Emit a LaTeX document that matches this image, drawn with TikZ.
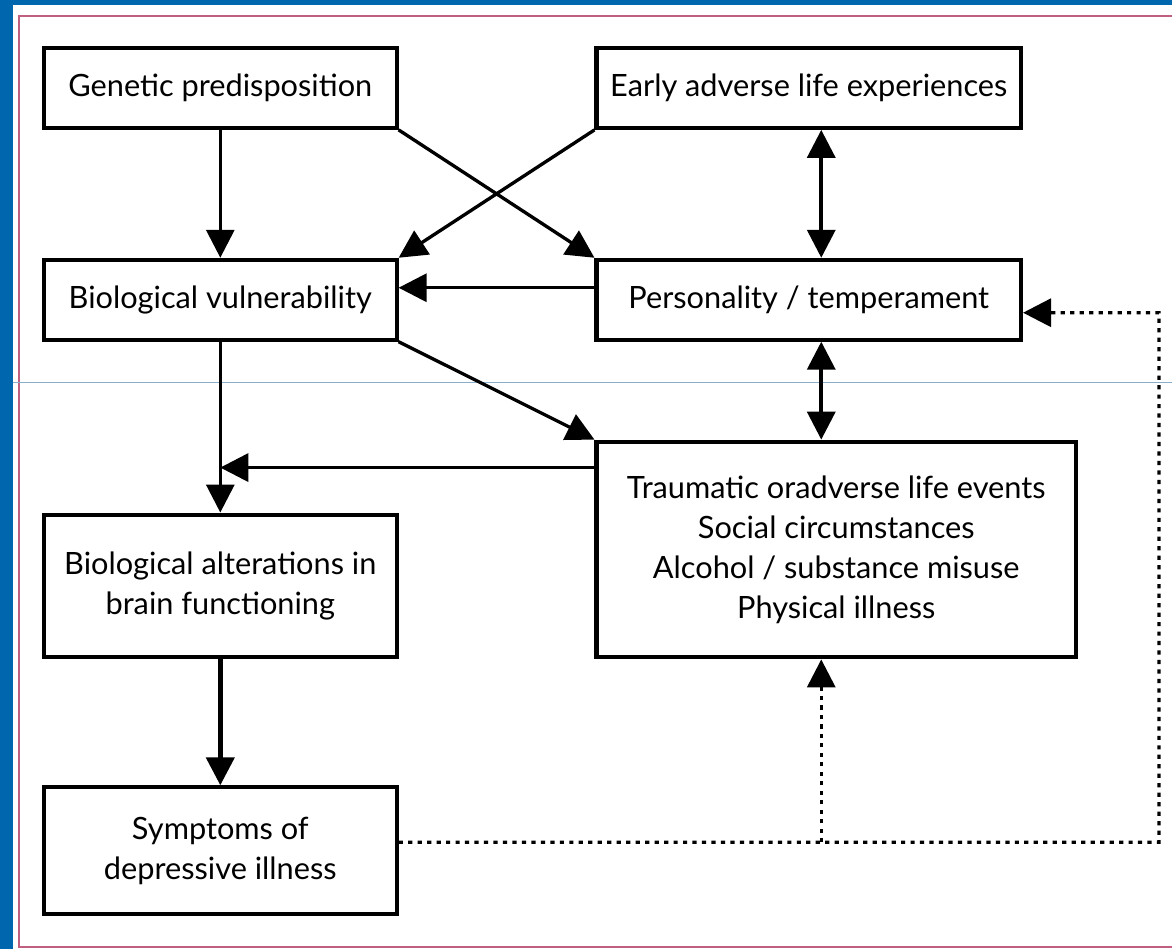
\documentclass[tikz,border=0pt]{standalone}
\usepackage{fontspec}
\setmainfont{Lato}
\usetikzlibrary{arrows.meta}

\definecolor{frameblue}{HTML}{0066AE}
\definecolor{framepink}{HTML}{C0607E}
\definecolor{scanline}{HTML}{88AECB}

\begin{document}
\begin{tikzpicture}[x=0.02cm, y=-0.02cm,
    box/.style={draw, line width=2.3pt, align=center, inner sep=0pt,
      font=\fontsize{17.5}{22.8}\selectfont},
    link/.style={line width=1.9pt, -{Triangle[length=0.56cm,width=0.56cm]}},
    twoway/.style={line width=2.1pt, {Triangle[length=0.56cm,width=0.56cm]}-{Triangle[length=0.56cm,width=0.56cm]}},
    feedback/.style={line width=1.9pt, dash pattern=on 2.4pt off 3pt, -{Triangle[length=0.56cm,width=0.56cm]}}]

  % frame
  \fill[frameblue] (0,0) rectangle (1173,950);
  \fill[white] (13,5) rectangle (1173,950);
  \draw[framepink, line width=1.2pt] (1173,16) -- (19,16) -- (19,948) -- (1173,948);
  \draw[scanline, line width=0.6pt] (13,383) -- (1173,383);
  \useasboundingbox (0,0) rectangle (1173,950);

  \node [box, minimum width=7.06cm, minimum height=1.6cm] (gen) at (220.5,88) {Genetic predisposition};
  \node [box, minimum width=8.5cm, minimum height=1.6cm] (early) at (809.5,88) {Early adverse life experiences};
  \node [box, minimum width=7.06cm, minimum height=1.6cm] (vuln) at (220.5,300) {Biological vulnerability};
  \node [box, minimum width=8.5cm, minimum height=1.6cm] (pers) at (809.5,300) {Personality / temperament};
  \node [box, minimum width=9.6cm, minimum height=4.32cm] (trauma) at (837,550)
    {Traumatic oradverse life events\\Social circumstances\\Alcohol / substance misuse\\Physical illness};
  \node [box, minimum width=7.06cm, minimum height=2.86cm] (alter) at (220.5,586.5)
    {Biological alterations in\\brain functioning};
  \node [box, minimum width=7.06cm, minimum height=2.54cm] (symp) at (220.5,851.5)
    {Symptoms of\\depressive illness};
  \coordinate (loopc) at (1160,843);

  \draw [link] (gen.south) -- (vuln.north);
  \draw [link] (gen.south east) -- (pers.north west);
  \draw [link] (early.south west) -- (vuln.north east);
  \draw [twoway] ([xshift=0.25cm]early.south) -- ([xshift=0.25cm]pers.north);
  \draw [link] ([yshift=0.24cm]pers.west) -- ([yshift=0.24cm]pers.west -| vuln.east);
  \draw [twoway] ([xshift=0.25cm]pers.south) -- ([xshift=0.25cm]pers.south |- trauma.north);
  \draw [link] (vuln.south east) -- (trauma.north west);
  \draw [link] (vuln.south) -- (alter.north);
  \draw [link] ([yshift=-0.56cm]trauma.north west) -- ([yshift=-0.56cm]trauma.north west -| vuln.south);
  \draw [link, line width=2.6pt] (alter.south) -- (symp.north);
  \draw [feedback] ([yshift=0.17cm]symp.east) -- (loopc) |- ([yshift=-0.26cm]pers.east);
  \draw [feedback] ([xshift=0.25cm]pers.south |- loopc) -- ([xshift=0.25cm]pers.south |- trauma.south);
\end{tikzpicture}
\end{document}
